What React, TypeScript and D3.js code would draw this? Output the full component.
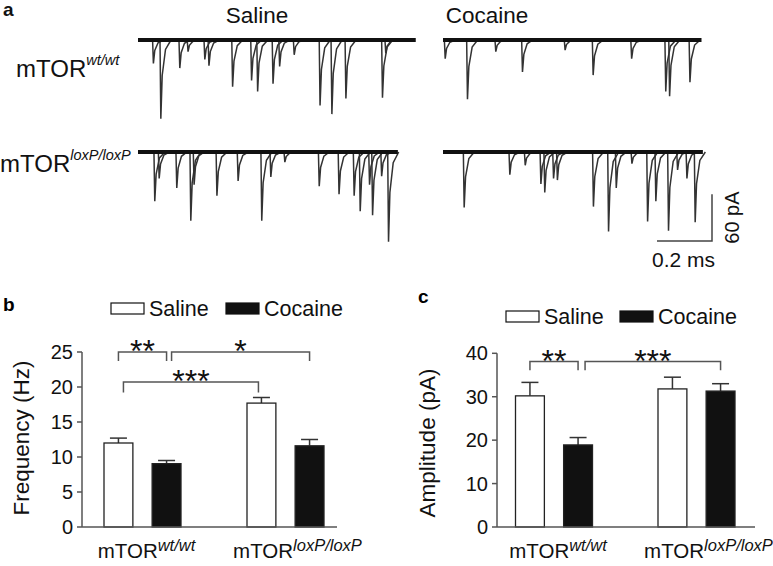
import React from "react";
import * as d3 from "d3";

const FONT = "'Liberation Sans', Arial, Helvetica, sans-serif";

// ---- panel a: sEPSC traces, events as [time (ms), amplitude (pA)] ----
const salineWtEvents = [
  [0.053, 30], [0.08, 101], [0.149, 36], [0.179, 15], [0.24, 25], [0.255, 33],
  [0.341, 60], [0.41, 52], [0.432, 66], [0.488, 56], [0.512, 34], [0.565, 19],
  [0.659, 84], [0.702, 95], [0.753, 75], [0.886, 74], [0.898, 17],
];
const cocaineWtEvents = [
  [0.005, 24], [0.086, 76], [0.189, 15], [0.286, 41], [0.441, 13], [0.543, 45],
  [0.683, 24], [0.807, 66], [0.821, 72], [0.895, 54],
];
const salineLoxEvents = [
  [0.058, 63], [0.074, 34], [0.138, 46], [0.189, 88], [0.201, 42], [0.284, 56],
  [0.361, 37], [0.447, 88], [0.48, 32], [0.531, 13], [0.656, 44], [0.728, 54],
  [0.783, 56], [0.805, 76], [0.839, 42], [0.85, 81], [0.883, 31], [0.908, 115],
];
const cocaineLoxEvents = [
  [0.074, 71], [0.24, 29], [0.296, 17], [0.353, 41], [0.367, 52], [0.399, 34],
  [0.413, 36], [0.544, 70], [0.599, 102], [0.627, 46], [0.684, 15], [0.741, 89],
  [0.771, 63], [0.817, 101], [0.85, 23], [0.884, 34], [0.914, 90],
];
const traceDurations = [1.01, 0.94, 0.945, 0.945]; // ms
const scaleBarTime = 0.2; // ms
const scaleBarAmp = 60; // pA

// ---- panels b & c ----
const groups = ["wt/wt", "loxP/loxP"];
const treatments = ["Saline", "Cocaine"];
const freqSaline = [12.0, 17.7];
const freqSalineErr = [0.7, 0.8];
const freqCocaine = [9.05, 11.6];
const freqCocaineErr = [0.45, 0.9];
const freqTicks = [0, 5, 10, 15, 20, 25];
const ampSaline = [30.2, 31.8];
const ampSalineErr = [3.1, 2.7];
const ampCocaine = [18.9, 31.3];
const ampCocaineErr = [1.7, 1.7];
const ampTicks = [0, 10, 20, 30, 40];

const freqBrackets = [
  { from: [0, "Saline"], to: [0, "Cocaine"], level: 25, drop: 1.3, label: "**", dx: [0, 0] },
  { from: [0, "Cocaine"], to: [1, "Cocaine"], level: 25, drop: 1.3, label: "*", dx: [5, 0] },
  { from: [0, "Saline"], to: [1, "Saline"], level: 20.7, drop: 1.5, label: "***", dx: [5, -3] },
];
const ampBrackets = [
  { from: [0, "Saline"], to: [0, "Cocaine"], level: 38.1, drop: 2, label: "**", dx: [0, 0] },
  { from: [0, "Cocaine"], to: [1, "Cocaine"], level: 38.1, drop: 2, label: "***", dx: [7, 0] },
];

const kx = 275; // px per ms
const ky = 0.78; // px per pA

const Trace = ({ x0, y0, events, duration }) => {
  const t = d3.scaleLinear().domain([0, 1]).range([x0, x0 + kx]);
  const a = d3.scaleLinear().domain([0, 1]).range([y0, y0 + ky]);
  const line = d3.line().x(d => t(d[0])).y(d => a(d[1]));
  return (
    <g>
      {events.map((e, i) => (
        <path
          key={i}
          d={line([
            [e[0], 0],
            [e[0] + 0.003, e[1]],
            [e[0] + 0.008, e[1] * 0.45],
            [e[0] + 0.02, e[1] * 0.12],
            [e[0] + 0.04, 0],
          ])}
          fill="none"
          stroke="#333"
          strokeWidth={1.5}
        />
      ))}
      <line x1={t(0)} x2={t(duration)} y1={y0} y2={y0} stroke="#111" strokeWidth={4.2} />
    </g>
  );
};

const MtorLabel = ({ x, y, sup, size, supSize, supDy, anchor = "start" }) => (
  <text x={x} y={y} fontSize={size} textAnchor={anchor} fontFamily={FONT} fill="#111">
    mTOR
    <tspan dy={supDy} fontSize={supSize} fontStyle="italic">{sup}</tspan>
  </text>
);

const BarPanel = ({
  letter, letterPos, axisX, axisRight, yMax, yTop, ticks, saline, salineErr, cocaine, cocaineErr,
  centers, brackets, title, titlePos, legendX, legendY, labelShift,
}) => {
  const y = d3.scaleLinear().domain([0, yMax]).range([527, yTop]);
  const gx = d3.scalePoint().domain(groups).range(centers);
  const inner = d3.scaleBand().domain(treatments).range([-38.5, 38.5]).paddingInner(0.4);
  const bw = inner.bandwidth();
  const cx = (gi, tr) => gx(groups[gi]) + inner(tr) + bw / 2;
  const series = [
    { key: "Saline", vals: saline, errs: salineErr, fill: "#fff" },
    { key: "Cocaine", vals: cocaine, errs: cocaineErr, fill: "#111" },
  ];
  return (
    <g fontFamily={FONT}>
      <text x={letterPos[0]} y={letterPos[1]} fontSize={19} fontWeight="bold">{letter}</text>
      {series.map((s, i) => (
        <g key={s.key}>
          <rect x={legendX[i]} y={legendY} width={33} height={11} fill={s.fill} stroke="#111" strokeWidth={1.2} />
          <text x={legendX[i] + 38} y={legendY + 12.5} fontSize={21.5} fill="#111">{s.key}</text>
        </g>
      ))}
      {series.map(s =>
        groups.map((g, gi) => {
          const x = gx(g) + inner(s.key);
          const c = x + bw / 2;
          return (
            <g key={s.key + g}>
              <line x1={c} x2={c} y1={y(s.vals[gi])} y2={y(s.vals[gi] + s.errs[gi])} stroke="#333" strokeWidth={1.5} />
              <line x1={c - 8.5} x2={c + 8.5} y1={y(s.vals[gi] + s.errs[gi])} y2={y(s.vals[gi] + s.errs[gi])} stroke="#333" strokeWidth={1.5} />
              <rect x={x} y={y(s.vals[gi])} width={bw} height={y(0) - y(s.vals[gi])} fill={s.fill} stroke="#222" strokeWidth={1.3} />
            </g>
          );
        })
      )}
      <line x1={axisX} x2={axisRight} y1={y(0)} y2={y(0)} stroke="#555" strokeWidth={1.5} />
      <line x1={axisX} x2={axisX} y1={y(0)} y2={y(yMax)} stroke="#555" strokeWidth={1.5} />
      {ticks.map(t => (
        <g key={t}>
          <line x1={axisX - 5} x2={axisX} y1={y(t)} y2={y(t)} stroke="#555" strokeWidth={1.5} />
          <text x={axisX - 9} y={y(t)} dy="0.35em" textAnchor="end" fontSize={20} fill="#111">{t}</text>
        </g>
      ))}
      <text
        transform={`translate(${titlePos[0]},${titlePos[1]}) rotate(-90)`}
        textAnchor="middle"
        dy="0.35em"
        fontSize={22.5}
        fill="#111"
      >
        {title}
      </text>
      {brackets.map((b, i) => {
        const x1 = cx(b.from[0], b.from[1]) + b.dx[0];
        const x2 = cx(b.to[0], b.to[1]) + b.dx[1];
        const top = y(b.level);
        const bot = y(b.level - b.drop);
        return (
          <g key={i}>
            <path d={`M${x1},${bot}V${top}H${x2}V${bot}`} fill="none" stroke="#555" strokeWidth={1.5} />
            <text x={(x1 + x2) / 2} y={top + 10} textAnchor="middle" fontSize={32} fill="#111">{b.label}</text>
          </g>
        );
      })}
      {groups.map((g, gi) => (
        <MtorLabel key={g} x={gx(g) + labelShift[gi]} y={558} sup={g} size={20.5} supSize={16.5} supDy={-7.5} anchor="middle" />
      ))}
    </g>
  );
};

export default function App() {
  const events = [salineWtEvents, cocaineWtEvents, salineLoxEvents, cocaineLoxEvents];
  const colX = [138, 443];
  const rowY = [40, 152];
  const barX = 712;
  const barY = 241;
  return (
    <svg width={773} height={566} style={{ position: "absolute", left: 0, top: 0, background: "#fff" }}>
      <g fontFamily={FONT} fill="#111">
        <text x={3} y={16} fontSize={19} fontWeight="bold">a</text>
        <text x={257} y={23} fontSize={22.5} textAnchor="middle">Saline</text>
        <text x={487} y={23} fontSize={22.5} textAnchor="middle">Cocaine</text>
      </g>
      <MtorLabel x={16} y={77} sup="wt/wt" size={24} supSize={14.5} supDy={-12} />
      <MtorLabel x={0} y={172} sup="loxP/loxP" size={24} supSize={14.5} supDy={-12} />
      {events.map((ev, i) => (
        <Trace key={i} x0={colX[i % 2]} y0={rowY[Math.floor(i / 2)]} events={ev} duration={traceDurations[i]} />
      ))}
      <path
        d={`M${barX - kx * scaleBarTime},${barY}H${barX}V${barY - ky * scaleBarAmp}`}
        fill="none"
        stroke="#444"
        strokeWidth={1.5}
      />
      <text
        transform={`translate(${barX + 20},${barY - (ky * scaleBarAmp) / 2}) rotate(-90)`}
        textAnchor="middle"
        dy="0.35em"
        fontSize={20}
        fontFamily={FONT}
        fill="#111"
      >
        {scaleBarAmp} pA
      </text>
      <text x={barX - (kx * scaleBarTime) / 2 - 1} y={267} textAnchor="middle" fontSize={21} fontFamily={FONT} fill="#111">
        {scaleBarTime} ms
      </text>
      <BarPanel
        letter="b"
        letterPos={[3, 311]}
        axisX={82}
        axisRight={337}
        yMax={25}
        yTop={352}
        ticks={freqTicks}
        saline={freqSaline}
        salineErr={freqSalineErr}
        cocaine={freqCocaine}
        cocaineErr={freqCocaineErr}
        centers={[142.5, 285.5]}
        brackets={freqBrackets}
        title="Frequency (Hz)"
        titlePos={[21, 438]}
        legendX={[111, 226]}
        legendY={303}
        labelShift={[4, 12]}
      />
      <BarPanel
        letter="c"
        letterPos={[418, 303]}
        axisX={497}
        axisRight={755}
        yMax={40}
        yTop={353.3}
        ticks={ampTicks}
        saline={ampSaline}
        salineErr={ampSalineErr}
        cocaine={ampCocaine}
        cocaineErr={ampCocaineErr}
        centers={[554, 696.5]}
        brackets={ampBrackets}
        title="Amplitude (pA)"
        titlePos={[427, 443]}
        legendX={[506, 620]}
        legendY={311}
        labelShift={[4, 12]}
      />
    </svg>
  );
}
